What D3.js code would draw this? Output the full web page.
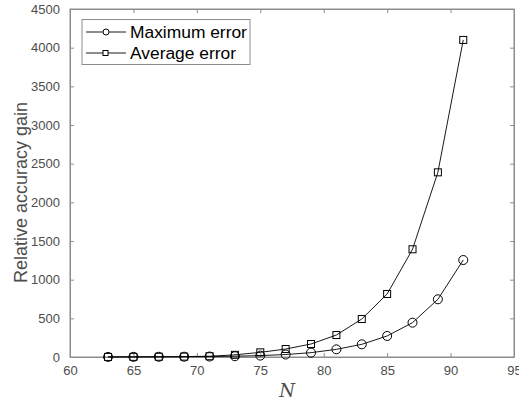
<!DOCTYPE html>
<html>
<head>
<meta charset="utf-8">
<script src="https://cdn.jsdelivr.net/npm/d3@7"></script>
<style>
  body { margin: 0; background: #fff; }
  svg { display: block; }
</style>
</head>
<body>
<svg id="chart" width="519" height="404"></svg>
<script>
// Problem sizes
const nValues = [63, 65, 67, 69, 71, 73, 75, 77, 79, 81, 83, 85, 87, 89, 91];
// Relative accuracy gain, maximum error
const maxError = [1, 2, 3, 4, 6, 10, 18, 32, 56, 99, 164, 272, 444, 746, 1254];
// Relative accuracy gain, average error
const avgError = [1, 2, 3, 5, 10, 28, 60, 103, 168, 284, 491, 815, 1393, 2388, 4100];
// Axis ticks
const xTicks = [60, 65, 70, 75, 80, 85, 90, 95];
const yTicks = [0, 500, 1000, 1500, 2000, 2500, 3000, 3500, 4000, 4500];

const svg = d3.select("#chart");
const plotLeft = 70, plotRight = 514, plotTop = 9, plotBottom = 357;

const x = d3.scaleLinear().domain([60, 95]).range([plotLeft, plotRight]);
const y = d3.scaleLinear().domain([0, 4500]).range([plotBottom, plotTop]);

const axisColor = "#8c8c8c";
const labelColor = "#4d4d4d";
const tickFont = "Liberation Sans, Arial, sans-serif";

// Box frame
svg.append("rect")
  .attr("x", plotLeft).attr("y", plotTop)
  .attr("width", plotRight - plotLeft).attr("height", plotBottom - plotTop)
  .attr("fill", "none").attr("stroke", axisColor).attr("stroke-width", 1);

// Axes with inward ticks
const fmt = d3.format("d");
const xAxis = svg.append("g").attr("transform", `translate(0,${plotBottom})`)
  .call(d3.axisBottom(x).tickValues(xTicks).tickFormat(fmt).tickSizeInner(-4).tickSizeOuter(0).tickPadding(9));
const xAxisTop = svg.append("g").attr("transform", `translate(0,${plotTop})`)
  .call(d3.axisTop(x).tickValues(xTicks).tickSizeInner(-4).tickSizeOuter(0).tickFormat(""));
const yAxis = svg.append("g").attr("transform", `translate(${plotLeft},0)`)
  .call(d3.axisLeft(y).tickValues(yTicks).tickFormat(fmt).tickSizeInner(-4).tickSizeOuter(0).tickPadding(10));
const yAxisRight = svg.append("g").attr("transform", `translate(${plotRight},0)`)
  .call(d3.axisRight(y).tickValues(yTicks).tickSizeInner(-4).tickSizeOuter(0).tickFormat(""));

[xAxis, xAxisTop, yAxis, yAxisRight].forEach(g => {
  g.select(".domain").attr("stroke", axisColor);
  g.selectAll(".tick line").attr("stroke", axisColor);
  g.selectAll(".tick text")
    .attr("fill", labelColor)
    .style("font-family", tickFont)
    .style("font-size", "13px");
});

// Axis labels
svg.append("text")
  .attr("x", 287).attr("y", 397)
  .attr("text-anchor", "middle")
  .style("font-family", "DejaVu Serif, Liberation Serif, serif")
  .style("font-style", "italic")
  .style("font-size", "18px")
  .attr("fill", labelColor)
  .text("N");

svg.append("text")
  .attr("transform", "translate(27,283) rotate(-90)")
  .attr("text-anchor", "start")
  .style("font-family", tickFont)
  .style("font-size", "18px")
  .attr("fill", labelColor)
  .text("Relative accuracy gain");

const line = d3.line().x(d => x(d[0])).y(d => y(d[1]));
const avgPts = nValues.map((n, i) => [n, avgError[i]]);
const maxPts = nValues.map((n, i) => [n, maxError[i]]);

// Average error series (squares)
svg.append("path").datum(avgPts).attr("d", line)
  .attr("fill", "none").attr("stroke", "#000").attr("stroke-width", 0.9);
svg.selectAll(".sq").data(avgPts).join("rect")
  .attr("x", d => x(d[0]) - 3.5).attr("y", d => y(d[1]) - 3.5)
  .attr("width", 7).attr("height", 7)
  .attr("fill", "none").attr("stroke", "#000").attr("stroke-width", 1);

// Maximum error series (circles)
svg.append("path").datum(maxPts).attr("d", line)
  .attr("fill", "none").attr("stroke", "#000").attr("stroke-width", 0.9);
svg.selectAll(".ci").data(maxPts).join("circle")
  .attr("cx", d => x(d[0])).attr("cy", d => y(d[1])).attr("r", 4.5)
  .attr("fill", "none").attr("stroke", "#000").attr("stroke-width", 1);

// Legend
const lg = svg.append("g");
lg.append("rect")
  .attr("x", 82).attr("y", 19.5).attr("width", 168).attr("height", 45)
  .attr("fill", "#fff").attr("stroke", axisColor).attr("stroke-width", 1);
const entries = [
  { label: "Maximum error", shape: "circle", yy: 32 },
  { label: "Average error", shape: "square", yy: 53 }
];
entries.forEach(e => {
  lg.append("line").attr("x1", 86).attr("x2", 126).attr("y1", e.yy).attr("y2", e.yy)
    .attr("stroke", "#000").attr("stroke-width", 0.9);
  if (e.shape === "circle") {
    lg.append("circle").attr("cx", 106).attr("cy", e.yy).attr("r", 3)
      .attr("fill", "#fff").attr("stroke", "#000");
  } else {
    lg.append("rect").attr("x", 103).attr("y", e.yy - 2.5).attr("width", 5).attr("height", 5)
      .attr("fill", "#fff").attr("stroke", "#000");
  }
  lg.append("text").attr("x", 130).attr("y", e.yy + 6)
    .style("font-family", tickFont).style("font-size", "17.4px")
    .attr("fill", "#000").text(e.label);
});
</script>
</body>
</html>
